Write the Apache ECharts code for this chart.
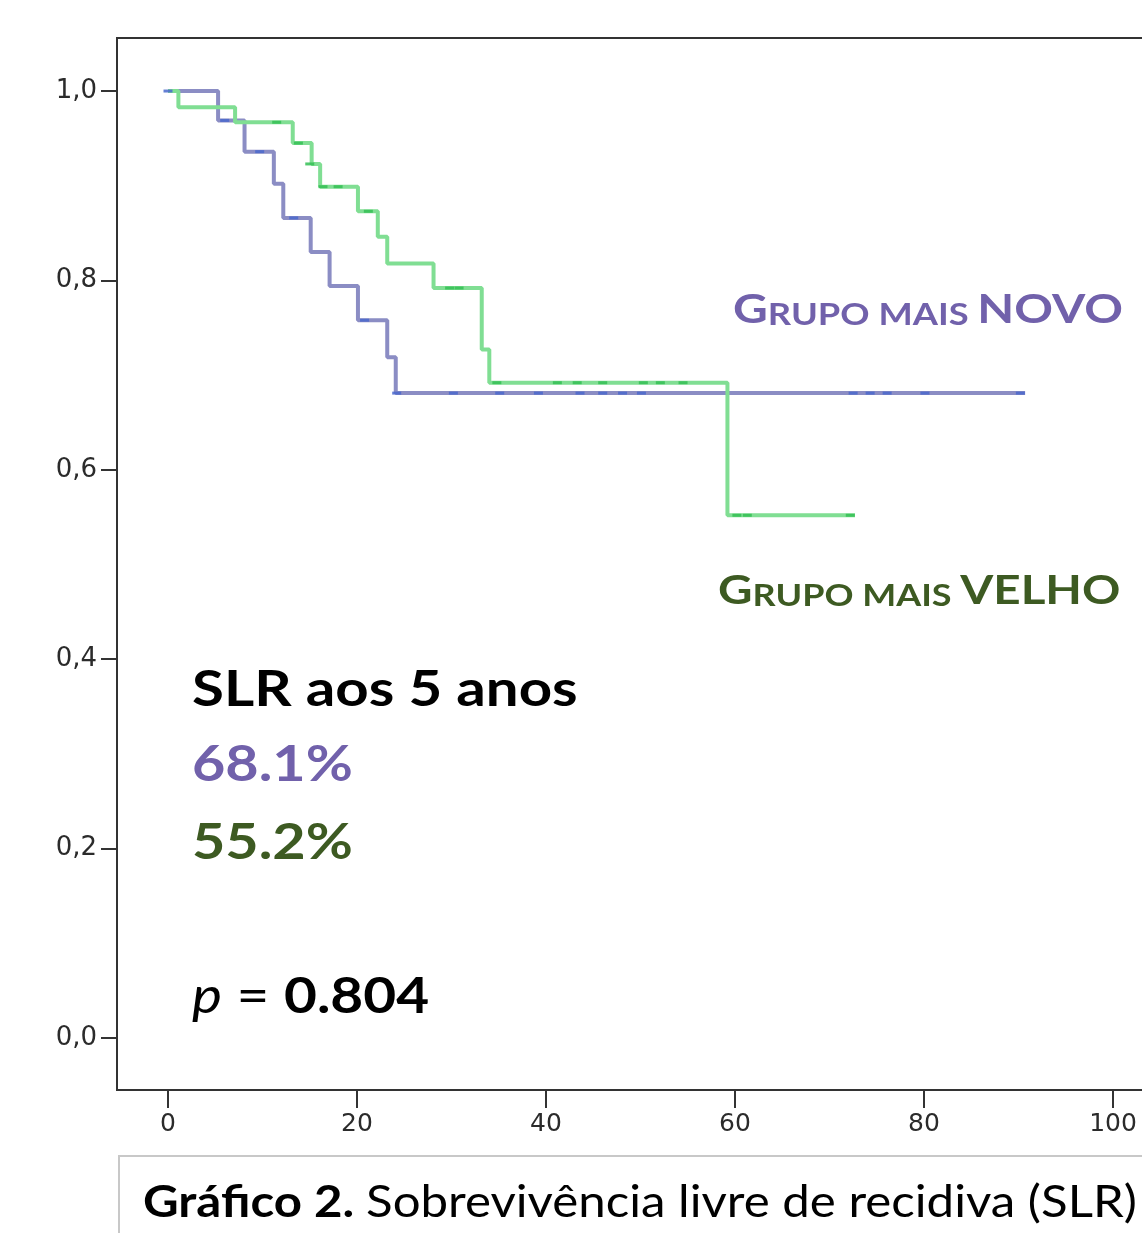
<!DOCTYPE html>
<html>
<head>
<meta charset="utf-8">
<script src="https://cdn.jsdelivr.net/npm/echarts@6/dist/echarts.min.js"></script>
<style>
html,body{margin:0;padding:0;background:#fff;overflow:hidden;}
#c{width:1200px;height:1233px;}
</style>
</head>
<body>
<div id="c"></div>
<script>
// Kaplan-Meier: Grupo mais novo
const novoTime = [0, 5.3, 8.1, 11.2, 12.2, 15.1, 17.1, 20.1, 23.2, 24.1, 90.7];
const novoSurv = [1.0, 0.969, 0.936, 0.902, 0.866, 0.830, 0.794, 0.758, 0.719, 0.681, 0.681];
const novoCensTime = [0, 6.0, 9.7, 13.3, 20.8, 24.2, 30.2, 35.1, 39.2, 43.6, 46.0, 48.1, 50.1, 72.5, 74.3, 76.1, 80.1, 90.2];
const novoCensSurv = [1.0, 0.969, 0.936, 0.866, 0.758, 0.681, 0.681, 0.681, 0.681, 0.681, 0.681, 0.681, 0.681, 0.681, 0.681, 0.681, 0.681, 0.681];

// Kaplan-Meier: Grupo mais velho
const velhoTime = [0, 1.1, 7.1, 13.2, 15.2, 16.1, 20.1, 22.2, 23.2, 28.1, 33.2, 34.0, 59.2, 72.7];
const velhoSurv = [1.0, 0.983, 0.967, 0.945, 0.923, 0.899, 0.873, 0.846, 0.818, 0.792, 0.727, 0.692, 0.552, 0.552];
const velhoCensTime = [11.5, 13.8, 15.0, 16.4, 18.0, 21.2, 29.8, 30.8, 34.8, 41.2, 43.3, 46.0, 50.3, 52.1, 54.5, 60.2, 61.3, 72.2];
const velhoCensSurv = [0.967, 0.945, 0.923, 0.899, 0.899, 0.873, 0.792, 0.792, 0.692, 0.692, 0.692, 0.692, 0.692, 0.692, 0.692, 0.552, 0.552, 0.552];

const xTicks = [0, 20, 40, 60, 80, 100];
const yTicks = [0, 0.2, 0.4, 0.6, 0.8, 1.0];

const zip = (a, b) => a.map((v, i) => [v, b[i]]);

const chart = echarts.init(document.getElementById('c'), null, {renderer: 'canvas'});

const titleFont = 'Lato';
const purple = '#7161ab';
const dgreen = '#3d5a22';

const capsRich = (color) => ({
  b: {fontFamily: titleFont, fontWeight: 'bold', fontSize: 41, fill: color, verticalAlign: 'bottom', lineHeight: 48},
  s: {fontFamily: titleFont, fontWeight: 'bold', fontSize: 31, fill: color, verticalAlign: 'bottom', lineHeight: 48}
});

chart.setOption({
  animation: false,
  grid: {left: 117, top: 38, right: 20, bottom: 143, show: true, borderColor: '#333', borderWidth: 2},
  xAxis: {
    type: 'value', min: -5.397, max: 107.09,
    splitLine: {show: false},
    axisLine: {show: true, onZero: false, lineStyle: {color: '#333', width: 2}},
    axisTick: {show: true, length: 18, lineStyle: {color: '#333', width: 2}, customValues: xTicks},
    axisLabel: {customValues: xTicks, margin: 22, color: '#2b2b2b', fontFamily: 'DejaVu Sans', fontSize: 25}
  },
  yAxis: {
    type: 'value', min: -0.0549, max: 1.056,
    splitLine: {show: false},
    axisLine: {show: true, onZero: false, lineStyle: {color: '#333', width: 2}},
    axisTick: {show: true, length: 16, lineStyle: {color: '#333', width: 2}, customValues: yTicks},
    axisLabel: {customValues: yTicks, margin: 20, color: '#2b2b2b', fontFamily: 'DejaVu Sans', fontSize: 26,
      formatter: v => v.toFixed(1).replace('.', ',')}
  },
  series: [
    {type: 'line', step: 'end', data: zip(novoTime, novoSurv), showSymbol: false,
      lineStyle: {color: '#8b8dc4', width: 4}, z: 2},
    {type: 'line', step: 'end', data: zip(velhoTime, velhoSurv), showSymbol: false,
      lineStyle: {color: '#80de93', width: 4}, z: 3},
    {type: 'scatter', data: zip(novoCensTime, novoCensSurv), symbol: 'rect', symbolSize: [9, 3],
      itemStyle: {color: '#4a68cc', opacity: 0.85}, z: 4},
    {type: 'scatter', data: zip(velhoCensTime, velhoCensSurv), symbol: 'rect', symbolSize: [9, 3],
      itemStyle: {color: '#35bf55', opacity: 0.85}, z: 5}
  ],
  graphic: [
    {type: 'text', left: 733, top: 289, scaleX: 1.17, style: {
      text: '{b|G}{s|RUPO MAIS }{b|NOVO}', fill: purple, rich: capsRich(purple)}},
    {type: 'text', left: 718, top: 570, scaleX: 1.16, style: {
      text: '{b|G}{s|RUPO MAIS }{b|VELHO}', fill: dgreen, rich: capsRich(dgreen)}},
    {type: 'text', left: 192, top: 665, scaleX: 1.164, style: {text: 'SLR aos 5 anos', fill: '#000',
      font: 'bold 50px ' + titleFont}},
    {type: 'text', left: 192, top: 740, scaleX: 1.15, style: {text: '68.1%', fill: purple,
      font: 'bold 50px ' + titleFont}},
    {type: 'text', left: 192, top: 818, scaleX: 1.15, style: {text: '55.2%', fill: dgreen,
      font: 'bold 50px ' + titleFont}},
    {type: 'text', left: 192, top: 972, scaleX: 1.135, style: {
      text: '{i|p}{r| = }{b|0.804}',
      rich: {
        i: {fontFamily: titleFont, fontStyle: 'italic', fontSize: 50, fill: '#000', verticalAlign: 'bottom', lineHeight: 58},
        r: {fontFamily: titleFont, fontSize: 50, fill: '#000', verticalAlign: 'bottom', lineHeight: 58},
        b: {fontFamily: titleFont, fontWeight: 'bold', fontSize: 50, fill: '#000', verticalAlign: 'bottom', lineHeight: 58}
      }}},
    {type: 'rect', left: 118, top: 1155, shape: {width: 1100, height: 120},
      style: {fill: '#fff', stroke: '#c8c8c8', lineWidth: 2}},
    {type: 'text', left: 143, top: 1181, scaleX: 1.118, style: {
      text: '{b|Gráfico 2. }{r|Sobrevivência livre de recidiva (SLR)}',
      rich: {
        b: {fontFamily: titleFont, fontWeight: 'bold', fontSize: 44, fill: '#000', verticalAlign: 'bottom', lineHeight: 52},
        r: {fontFamily: titleFont, fontSize: 44, fill: '#000', verticalAlign: 'bottom', lineHeight: 52}
      }}}
  ]
});
</script>
</body>
</html>
